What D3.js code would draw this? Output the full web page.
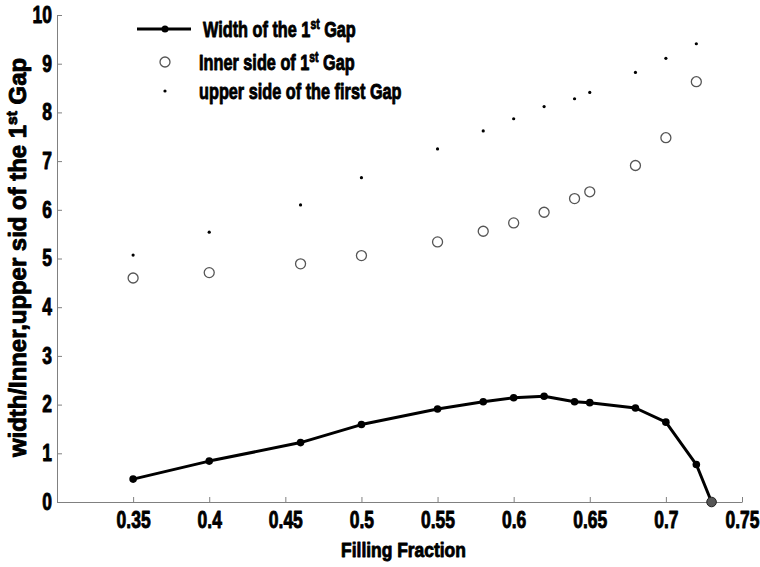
<!DOCTYPE html>
<html>
<head>
<meta charset="utf-8">
<script src="https://cdn.jsdelivr.net/npm/d3@7"></script>
<style>
  body { margin: 0; background: #fff; }
  text { font-family: 'Liberation Sans', Arial, sans-serif; font-weight: bold; fill: #000;
         stroke: #000; stroke-width: 0.9px; stroke-linejoin: round; }
</style>
</head>
<body>
<svg id="grafico"></svg>
<script>
// dados
var fracao = [0.35, 0.40, 0.46, 0.50, 0.55, 0.58, 0.60, 0.62, 0.64, 0.65, 0.68, 0.70, 0.72];
var largura = [0.47, 0.84, 1.22, 1.59, 1.91, 2.06, 2.14, 2.17, 2.06, 2.04, 1.93, 1.64, 0.77];
var fracaoFinal = 0.73;      // ponto onde a largura chega a zero
var larguraFinal = 0;
var ladoInterno = [4.60, 4.71, 4.89, 5.06, 5.34, 5.56, 5.73, 5.95, 6.23, 6.37, 6.91, 7.48, 8.63];
var ladoSuperior = [5.07, 5.54, 6.10, 6.66, 7.25, 7.62, 7.87, 8.12, 8.28, 8.41, 8.82, 9.11, 9.41];
var ticksX = [0.35, 0.40, 0.45, 0.50, 0.55, 0.60, 0.65, 0.70, 0.75];
var ticksY = [0, 1, 2, 3, 4, 5, 6, 7, 8, 9, 10];

var W = 760, H = 567;
var margem = { esquerda: 57, direita: 18, superior: 15, inferior: 65 };

var svg = d3.select('#grafico').attr('width', W).attr('height', H);

var x = d3.scaleLinear().domain([0.3, 0.75]).range([margem.esquerda, W - margem.direita]);
var y = d3.scaleLinear().domain([0, 10]).range([H - margem.inferior, margem.superior]);

// a fonte original é estreita (tipo Impact): comprime o texto na horizontal
function comprimir(sel, sx) {
  sel.each(function() {
    var t = d3.select(this);
    var x0 = +t.attr('x') || 0, y0 = +t.attr('y') || 0;
    t.attr('x', 0).attr('y', 0)
     .attr('transform', 'translate(' + x0 + ',' + y0 + ') scale(' + sx + ',1)');
  });
}

// eixos (ticks para dentro)
var eixoX = d3.axisBottom(x).tickValues(ticksX).tickSizeInner(-5).tickSizeOuter(0)
              .tickPadding(10).tickFormat(d => String(+d.toFixed(2)));
var eixoY = d3.axisLeft(y).tickValues(ticksY).tickSizeInner(-5).tickSizeOuter(0)
              .tickPadding(5);

var gx = svg.append('g')
            .attr('transform', 'translate(0,' + y(0) + ')')
            .call(eixoX);
var gy = svg.append('g')
            .attr('transform', 'translate(' + x(0.3) + ',0)')
            .call(eixoY);

[gx, gy].forEach(function(g) {
  g.attr('font-family', null).attr('font-size', null);
  g.selectAll('path, line').attr('stroke', '#808080').attr('stroke-width', 1);
  g.selectAll('text').style('font-size', '23px').attr('fill', '#000');
  comprimir(g.selectAll('text'), 0.76);
});

// títulos dos eixos
var tituloX = svg.append('text')
   .attr('x', (x(0.3) + x(0.75)) / 2 + 4)
   .attr('y', 557)
   .attr('text-anchor', 'middle')
   .style('font-size', '21px')
   .text('Filling Fraction');
comprimir(tituloX, 0.83);

var tituloY = svg.append('text')
   .attr('text-anchor', 'middle')
   .attr('transform', 'translate(26,' + (y(5) - 1) + ') rotate(-90) scale(1.04,1)')
   .style('font-size', '23px');
tituloY.append('tspan').text('width/Inner,upper sid of the 1');
tituloY.append('tspan').attr('dy', -9).style('font-size', '15px').text('st');
tituloY.append('tspan').attr('dy', 9).text(' Gap');

// série 1: largura do gap (linha com marcadores)
var pontos = fracao.map((f, i) => ({ f: f, v: largura[i] }));
pontos.push({ f: fracaoFinal, v: larguraFinal });

svg.append('path')
   .datum(pontos)
   .attr('fill', 'none')
   .attr('stroke', '#000')
   .attr('stroke-width', 3)
   .attr('stroke-linejoin', 'round')
   .attr('d', d3.line().x(d => x(d.f)).y(d => y(d.v)));

svg.selectAll('.marcador')
   .data(pontos.slice(0, -1))
   .enter()
   .append('circle')
   .classed('marcador', true)
   .attr('cx', d => x(d.f))
   .attr('cy', d => y(d.v))
   .attr('r', 3.8)
   .attr('fill', '#000');

svg.append('circle')
   .attr('cx', x(fracaoFinal))
   .attr('cy', y(larguraFinal))
   .attr('r', 4.8)
   .attr('fill', '#555')
   .attr('stroke', '#222')
   .attr('stroke-width', 1);

// série 2: lado interno (círculos abertos)
svg.selectAll('.interno')
   .data(fracao)
   .enter()
   .append('circle')
   .classed('interno', true)
   .attr('cx', d => x(d))
   .attr('cy', (d, i) => y(ladoInterno[i]))
   .attr('r', 5)
   .attr('fill', 'none')
   .attr('stroke', '#555')
   .attr('stroke-width', 1.3);

// série 3: lado superior (pontos)
svg.selectAll('.superior')
   .data(fracao)
   .enter()
   .append('circle')
   .classed('superior', true)
   .attr('cx', d => x(d))
   .attr('cy', (d, i) => y(ladoSuperior[i]))
   .attr('r', 1.6)
   .attr('fill', '#000');

// legenda
var legenda = svg.append('g');
legenda.append('line')
       .attr('x1', 137).attr('x2', 191).attr('y1', 29).attr('y2', 29)
       .attr('stroke', '#000').attr('stroke-width', 3);
legenda.append('circle').attr('cx', 165).attr('cy', 29).attr('r', 3.5).attr('fill', '#000');
legenda.append('circle').attr('cx', 165).attr('cy', 62).attr('r', 5)
       .attr('fill', 'none').attr('stroke', '#555').attr('stroke-width', 1.3);
legenda.append('circle').attr('cx', 165).attr('cy', 91).attr('r', 1.6).attr('fill', '#000');

function textoLegenda(xp, yp, antes, sup, depois) {
  var t = legenda.append('text').attr('x', xp).attr('y', yp).style('font-size', '22px');
  t.append('tspan').text(antes);
  if (sup) {
    t.append('tspan').attr('dy', -8).style('font-size', '14px').text(sup);
    t.append('tspan').attr('dy', 8).text(depois);
  }
  comprimir(t, 0.74);
}
textoLegenda(203, 37, 'Width of the 1', 'st', ' Gap');
textoLegenda(199, 70, 'Inner side of 1', 'st', ' Gap');
textoLegenda(199, 99, 'upper side of the first Gap');
</script>
</body>
</html>
